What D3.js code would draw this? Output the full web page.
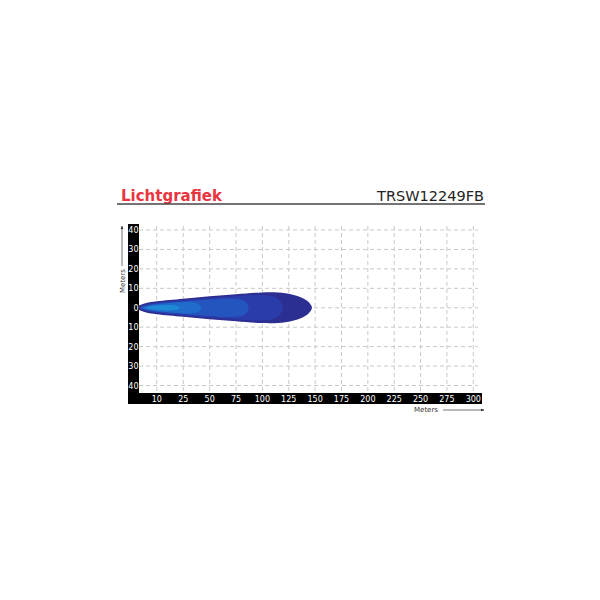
<!DOCTYPE html>
<html>
<head>
<meta charset="utf-8">
<script src="https://cdn.jsdelivr.net/npm/d3@7"></script>
<style>
  body { margin: 0; background: #fff; }
  svg { display: block; font-family: "DejaVu Sans", Verdana, sans-serif; }
</style>
</head>
<body>
<svg id="svg" width="600" height="600"></svg>
<script>
let title = "Lichtgrafiek";
let model = "TRSW12249FB";
let xTicks = [10, 25, 50, 75, 100, 125, 150, 175, 200, 225, 250, 275, 300];
let yTicks = [40, 30, 20, 10, 0, -10, -20, -30, -40];

// beam contours, [distance m, half width m], from outside to inside
let beamOuter = [[-1.5, 0], [0, 1.2], [1.5, 1.7], [4, 2.4], [10, 3.3], [25, 4.6], [50, 5.9], [75, 7.0], [100, 7.9], [115, 7.8], [128, 6.8], [138, 5.0], [144, 2.8], [147, 0]];
let beamSecond = [[0, 0], [1.5, 1.1], [4, 1.7], [10, 2.6], [25, 3.8], [50, 5.0], [75, 6.0], [95, 6.5], [108, 6.0], [115, 4.5], [119.5, 0]];
let beamThird = [[1, 0], [4, 1.2], [10, 2.1], [25, 3.2], [50, 4.3], [65, 4.8], [78, 4.4], [84, 3.2], [87, 0]];
let beamFourth = [[2, 0], [5, 1.0], [10, 1.7], [20, 2.6], [30, 3.0], [37, 2.6], [40.5, 1.6], [42, 0]];
let beamInner = [[3.5, 0], [6, 0.7], [10, 1.1], [15, 1.4], [19, 1.3], [21.5, 0.9], [23, 0]];
let beamColors = ["#2d2e92", "#2a3caa", "#2454be", "#1f6cca", "#1f89d8"];

let svg = d3.select("svg");

// plot box (inside the black axis bars)
let plotLeft = 139, plotRight = 482, plotTop = 224, plotBottom = 393;

// the first cell is stretched a bit, so the scale is piecewise linear
let x = d3.scaleLinear().domain([0, 25, 300]).range([plotLeft, 183.3, 473.3]);
let y = d3.scaleLinear().domain([-40, 40]).range([385.5, 230]);

// header
svg.append("text")
   .attr("x", 121)
   .attr("y", 200.7)
   .attr("font-size", 15)
   .attr("font-weight", "bold")
   .attr("fill", "#e8353f")
   .text(title);

svg.append("text")
   .attr("x", 484)
   .attr("y", 201)
   .attr("text-anchor", "end")
   .attr("font-size", 14.5)
   .attr("fill", "#222")
   .text(model);

svg.append("line")
   .attr("x1", 117).attr("x2", 485)
   .attr("y1", 204).attr("y2", 204)
   .attr("stroke", "#444")
   .attr("stroke-width", 1.5);

// grid
let g = svg.append("g");
g.selectAll(".vgrid")
 .data(xTicks)
 .enter().append("line")
   .attr("x1", d => x(d)).attr("x2", d => x(d))
   .attr("y1", 226).attr("y2", plotBottom)
   .attr("stroke", "#c8c8c8")
   .attr("stroke-width", 1)
   .attr("stroke-dasharray", "4,3");

g.selectAll(".hgrid")
 .data(yTicks)
 .enter().append("line")
   .attr("x1", plotLeft).attr("x2", 478)
   .attr("y1", d => y(d)).attr("y2", d => y(d))
   .attr("stroke", "#c8c8c8")
   .attr("stroke-width", 1)
   .attr("stroke-dasharray", "4,3");

// beam, drawn outside first so the inner ones sit on top
let outline = d3.line()
  .x(d => x(d[0]))
  .y(d => y(d[1]))
  .curve(d3.curveCatmullRomClosed.alpha(0.5));

function closedShape(profile) {
  let upper = profile.slice();
  let lower = profile.slice(1, -1).reverse().map(d => [d[0], -d[1]]);
  return upper.concat(lower);
}

[beamOuter, beamSecond, beamThird, beamFourth, beamInner].forEach((p, i) => {
  svg.append("path")
     .datum(closedShape(p))
     .attr("fill", beamColors[i])
     .attr("d", outline);
});

// black axis bars
svg.append("rect")
   .attr("x", 128).attr("y", plotTop)
   .attr("width", plotLeft - 128).attr("height", 404 - plotTop)
   .attr("fill", "#000");
svg.append("rect")
   .attr("x", 128).attr("y", plotBottom)
   .attr("width", plotRight - 128).attr("height", 404 - plotBottom)
   .attr("fill", "#000");

svg.selectAll(".xlab")
   .data(xTicks)
   .enter().append("text")
     .attr("x", d => x(d))
     .attr("y", 401.5)
     .attr("text-anchor", "middle")
     .attr("font-size", 8)
     .attr("fill", "#fff")
     .text(d => d);

svg.selectAll(".ylab")
   .data(yTicks)
   .enter().append("text")
     .attr("x", 138.5)
     .attr("y", d => y(d) + 3)
     .attr("text-anchor", "end")
     .attr("font-size", 8)
     .attr("fill", "#fff")
     .text(d => Math.abs(d));

// axis titles with arrows
svg.append("defs").append("marker")
   .attr("id", "arrow")
   .attr("viewBox", "0 0 10 10")
   .attr("refX", 9).attr("refY", 5)
   .attr("markerWidth", 5).attr("markerHeight", 5)
   .attr("orient", "auto")
   .append("path")
     .attr("d", "M0,1L10,5L0,9Z")
     .attr("fill", "#333");

svg.append("text")
   .attr("x", 426)
   .attr("y", 412)
   .attr("text-anchor", "middle")
   .attr("font-size", 7)
   .attr("fill", "#333")
   .text("Meters");
svg.append("line")
   .attr("x1", 443).attr("x2", 484)
   .attr("y1", 410).attr("y2", 410)
   .attr("stroke", "#333")
   .attr("stroke-width", 0.7)
   .attr("marker-end", "url(#arrow)");

svg.append("text")
   .attr("transform", "translate(124.5,281) rotate(-90)")
   .attr("text-anchor", "middle")
   .attr("font-size", 7)
   .attr("fill", "#333")
   .text("Meters");
svg.append("line")
   .attr("x1", 122).attr("x2", 122)
   .attr("y1", 266).attr("y2", 226)
   .attr("stroke", "#333")
   .attr("stroke-width", 0.7)
   .attr("marker-end", "url(#arrow)");
</script>
</body>
</html>
